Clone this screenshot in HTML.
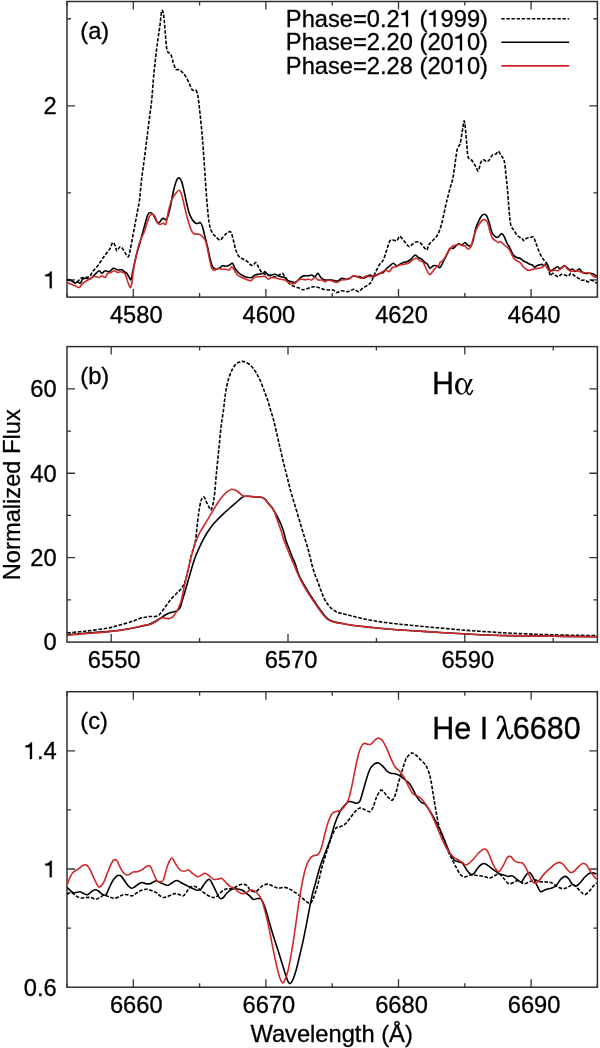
<!DOCTYPE html><html><head><meta charset="utf-8"><style>html,body{margin:0;padding:0;background:#fff;overflow:hidden}svg{display:block;will-change:transform}text{font-family:"Liberation Sans",sans-serif;fill:#000;stroke:#000;stroke-width:0.3px}</style></head><body>
<svg width="600" height="1048" viewBox="0 0 600 1048">
<rect width="600" height="1048" fill="#fff"/>
<rect x="67" y="1.5" width="530.40" height="295.60" fill="none" stroke="#2a2a2a" stroke-width="1.45"/>
<rect x="67" y="346.6" width="530.40" height="295.50" fill="none" stroke="#2a2a2a" stroke-width="1.45"/>
<rect x="67" y="691.7" width="530.40" height="295.50" fill="none" stroke="#2a2a2a" stroke-width="1.45"/>
<path d="M67.00 297.1v-4M67.00 1.5v4" stroke="#333" stroke-width="1.3"/>
<path d="M133.30 297.1v-8M133.30 1.5v8" stroke="#333" stroke-width="1.3"/>
<path d="M199.60 297.1v-4M199.60 1.5v4" stroke="#333" stroke-width="1.3"/>
<path d="M265.90 297.1v-8M265.90 1.5v8" stroke="#333" stroke-width="1.3"/>
<path d="M332.20 297.1v-4M332.20 1.5v4" stroke="#333" stroke-width="1.3"/>
<path d="M398.50 297.1v-8M398.50 1.5v8" stroke="#333" stroke-width="1.3"/>
<path d="M464.80 297.1v-4M464.80 1.5v4" stroke="#333" stroke-width="1.3"/>
<path d="M531.10 297.1v-8M531.10 1.5v8" stroke="#333" stroke-width="1.3"/>
<path d="M597.40 297.1v-4M597.40 1.5v4" stroke="#333" stroke-width="1.3"/>
<path d="M67 279.90h8M597.4 279.90h-8" stroke="#333" stroke-width="1.3"/>
<path d="M67 192.85h4M597.4 192.85h-4" stroke="#333" stroke-width="1.3"/>
<path d="M67 105.80h8M597.4 105.80h-8" stroke="#333" stroke-width="1.3"/>
<path d="M67 18.75h4M597.4 18.75h-4" stroke="#333" stroke-width="1.3"/>
<path d="M111.20 642.1v-8M111.20 346.6v8" stroke="#333" stroke-width="1.3"/>
<path d="M199.60 642.1v-4M199.60 346.6v4" stroke="#333" stroke-width="1.3"/>
<path d="M288.00 642.1v-8M288.00 346.6v8" stroke="#333" stroke-width="1.3"/>
<path d="M376.40 642.1v-4M376.40 346.6v4" stroke="#333" stroke-width="1.3"/>
<path d="M464.80 642.1v-8M464.80 346.6v8" stroke="#333" stroke-width="1.3"/>
<path d="M553.20 642.1v-4M553.20 346.6v4" stroke="#333" stroke-width="1.3"/>
<path d="M67 599.89h4M597.4 599.89h-4" stroke="#333" stroke-width="1.3"/>
<path d="M67 557.67h8M597.4 557.67h-8" stroke="#333" stroke-width="1.3"/>
<path d="M67 515.46h4M597.4 515.46h-4" stroke="#333" stroke-width="1.3"/>
<path d="M67 473.24h8M597.4 473.24h-8" stroke="#333" stroke-width="1.3"/>
<path d="M67 431.03h4M597.4 431.03h-4" stroke="#333" stroke-width="1.3"/>
<path d="M67 388.81h8M597.4 388.81h-8" stroke="#333" stroke-width="1.3"/>
<path d="M67.00 987.2v-4M67.00 691.7v4" stroke="#333" stroke-width="1.3"/>
<path d="M133.30 987.2v-8M133.30 691.7v8" stroke="#333" stroke-width="1.3"/>
<path d="M199.60 987.2v-4M199.60 691.7v4" stroke="#333" stroke-width="1.3"/>
<path d="M265.90 987.2v-8M265.90 691.7v8" stroke="#333" stroke-width="1.3"/>
<path d="M332.20 987.2v-4M332.20 691.7v4" stroke="#333" stroke-width="1.3"/>
<path d="M398.50 987.2v-8M398.50 691.7v8" stroke="#333" stroke-width="1.3"/>
<path d="M464.80 987.2v-4M464.80 691.7v4" stroke="#333" stroke-width="1.3"/>
<path d="M531.10 987.2v-8M531.10 691.7v8" stroke="#333" stroke-width="1.3"/>
<path d="M597.40 987.2v-4M597.40 691.7v4" stroke="#333" stroke-width="1.3"/>
<path d="M67 928.10h4M597.4 928.10h-4" stroke="#333" stroke-width="1.3"/>
<path d="M67 869.00h8M597.4 869.00h-8" stroke="#333" stroke-width="1.3"/>
<path d="M67 809.90h4M597.4 809.90h-4" stroke="#333" stroke-width="1.3"/>
<path d="M67 750.80h8M597.4 750.80h-8" stroke="#333" stroke-width="1.3"/>
<path d="M66.80 280.00 C67.50 280.13 69.47 280.38 71.00 280.80 C72.53 281.22 74.33 282.92 76.00 282.50 C77.67 282.08 79.62 279.13 81.00 278.30 C82.38 277.47 82.92 277.77 84.30 277.50 C85.68 277.23 87.90 277.67 89.30 276.70 C90.70 275.73 91.30 273.52 92.70 271.70 C94.10 269.88 96.03 268.03 97.70 265.80 C99.37 263.57 101.03 260.65 102.70 258.30 C104.37 255.95 106.45 253.37 107.70 251.70 C108.95 250.03 109.37 249.83 110.20 248.30 C111.03 246.77 111.87 242.92 112.70 242.50 C113.53 242.08 114.52 244.42 115.20 245.80 C115.88 247.18 115.97 250.65 116.80 250.80 C117.63 250.95 119.08 246.83 120.20 246.70 C121.32 246.57 122.53 248.75 123.50 250.00 C124.47 251.25 125.17 253.08 126.00 254.20 C126.83 255.32 127.80 257.40 128.50 256.70 C129.20 256.00 129.50 253.33 130.20 250.00 C130.90 246.67 131.87 241.15 132.70 236.70 C133.53 232.25 134.37 227.75 135.20 223.30 C136.03 218.85 136.95 214.17 137.70 210.00 C138.45 205.83 139.03 203.58 139.70 198.30 C140.37 193.02 140.95 184.68 141.70 178.30 C142.45 171.92 143.37 166.38 144.20 160.00 C145.03 153.62 145.87 146.67 146.70 140.00 C147.53 133.33 148.37 126.67 149.20 120.00 C150.03 113.33 151.02 106.67 151.70 100.00 C152.38 93.33 152.75 86.12 153.30 80.00 C153.85 73.88 154.43 68.58 155.00 63.30 C155.57 58.02 156.15 52.73 156.70 48.30 C157.25 43.87 157.75 40.58 158.30 36.70 C158.85 32.82 159.50 28.90 160.00 25.00 C160.50 21.10 160.93 15.75 161.30 13.30 C161.67 10.85 161.87 10.30 162.20 10.30 C162.53 10.30 162.97 11.68 163.30 13.30 C163.63 14.92 163.87 16.67 164.20 20.00 C164.53 23.33 164.88 28.58 165.30 33.30 C165.72 38.02 166.20 45.10 166.70 48.30 C167.20 51.50 167.62 51.52 168.30 52.50 C168.98 53.48 169.97 52.53 170.80 54.20 C171.63 55.87 172.47 60.00 173.30 62.50 C174.13 65.00 174.82 68.00 175.80 69.20 C176.78 70.40 178.08 69.15 179.20 69.70 C180.32 70.25 181.40 71.33 182.50 72.50 C183.60 73.67 184.68 74.90 185.80 76.70 C186.92 78.50 188.22 81.22 189.20 83.30 C190.18 85.38 190.87 87.95 191.70 89.20 C192.53 90.45 193.43 90.53 194.20 90.80 C194.97 91.07 195.67 89.82 196.30 90.80 C196.93 91.78 197.38 92.95 198.00 96.70 C198.62 100.45 199.33 107.20 200.00 113.30 C200.67 119.40 201.45 127.18 202.00 133.30 C202.55 139.42 202.85 143.88 203.30 150.00 C203.75 156.12 204.28 163.88 204.70 170.00 C205.12 176.12 205.33 180.32 205.80 186.70 C206.27 193.08 206.93 202.20 207.50 208.30 C208.07 214.40 208.50 219.40 209.20 223.30 C209.90 227.20 210.60 229.47 211.70 231.70 C212.80 233.93 214.42 235.32 215.80 236.70 C217.18 238.08 218.75 240.00 220.00 240.00 C221.25 240.00 222.18 237.82 223.30 236.70 C224.42 235.58 225.45 234.08 226.70 233.30 C227.95 232.52 229.70 230.88 230.80 232.00 C231.90 233.12 232.47 237.00 233.30 240.00 C234.13 243.00 234.82 247.22 235.80 250.00 C236.78 252.78 237.95 255.17 239.20 256.70 C240.45 258.23 241.92 258.37 243.30 259.20 C244.68 260.03 246.25 260.73 247.50 261.70 C248.75 262.67 249.83 264.45 250.80 265.00 C251.77 265.55 252.47 265.42 253.30 265.00 C254.13 264.58 254.97 262.22 255.80 262.50 C256.63 262.78 257.32 265.03 258.30 266.70 C259.28 268.37 260.58 271.25 261.70 272.50 C262.82 273.75 263.62 273.65 265.00 274.20 C266.38 274.75 268.33 275.38 270.00 275.80 C271.67 276.22 273.47 276.83 275.00 276.70 C276.53 276.57 277.95 275.57 279.20 275.00 C280.45 274.43 281.40 272.75 282.50 273.30 C283.60 273.85 284.55 276.48 285.80 278.30 C287.05 280.12 288.47 282.80 290.00 284.20 C291.53 285.60 293.33 286.02 295.00 286.70 C296.67 287.38 298.62 287.80 300.00 288.30 C301.38 288.80 301.92 289.70 303.30 289.70 C304.68 289.70 306.63 288.80 308.30 288.30 C309.97 287.80 311.63 286.83 313.30 286.70 C314.97 286.57 316.63 287.08 318.30 287.50 C319.97 287.92 321.63 288.78 323.30 289.20 C324.97 289.62 326.63 289.87 328.30 290.00 C329.97 290.13 331.90 289.58 333.30 290.00 C334.70 290.42 335.30 292.37 336.70 292.50 C338.10 292.63 340.03 290.93 341.70 290.80 C343.37 290.67 345.32 291.70 346.70 291.70 C348.08 291.70 348.75 291.22 350.00 290.80 C351.25 290.38 352.82 289.05 354.20 289.20 C355.58 289.35 356.92 291.85 358.30 291.70 C359.68 291.55 361.10 289.28 362.50 288.30 C363.90 287.32 365.32 286.77 366.70 285.80 C368.08 284.83 369.42 284.58 370.80 282.50 C372.18 280.42 373.60 276.22 375.00 273.30 C376.40 270.38 377.82 267.22 379.20 265.00 C380.58 262.78 382.05 262.50 383.30 260.00 C384.55 257.50 385.58 253.20 386.70 250.00 C387.82 246.80 388.90 242.47 390.00 240.80 C391.10 239.13 392.18 240.00 393.30 240.00 C394.42 240.00 395.63 241.42 396.70 240.80 C397.77 240.18 398.73 236.57 399.70 236.30 C400.67 236.03 401.48 238.03 402.50 239.20 C403.52 240.37 404.68 242.05 405.80 243.30 C406.92 244.55 408.08 246.55 409.20 246.70 C410.32 246.85 411.25 245.03 412.50 244.20 C413.75 243.37 415.32 241.85 416.70 241.70 C418.08 241.55 419.55 242.33 420.80 243.30 C422.05 244.27 423.22 246.38 424.20 247.50 C425.18 248.62 425.87 250.55 426.70 250.00 C427.53 249.45 428.10 245.87 429.20 244.20 C430.30 242.53 431.92 241.53 433.30 240.00 C434.68 238.47 436.25 237.22 437.50 235.00 C438.75 232.78 439.83 229.75 440.80 226.70 C441.77 223.65 442.47 220.32 443.30 216.70 C444.13 213.08 445.10 208.07 445.80 205.00 C446.50 201.93 446.80 201.08 447.50 198.30 C448.20 195.52 449.17 191.35 450.00 188.30 C450.83 185.25 451.80 183.05 452.50 180.00 C453.20 176.95 453.65 173.62 454.20 170.00 C454.75 166.38 455.25 161.92 455.80 158.30 C456.35 154.68 456.80 150.65 457.50 148.30 C458.20 145.95 459.30 146.42 460.00 144.20 C460.70 141.98 461.20 137.92 461.70 135.00 C462.20 132.08 462.58 129.07 463.00 126.70 C463.42 124.33 463.82 120.67 464.20 120.80 C464.58 120.93 464.88 123.75 465.30 127.50 C465.72 131.25 466.25 138.43 466.70 143.30 C467.15 148.17 467.32 154.05 468.00 156.70 C468.68 159.35 469.92 158.23 470.80 159.20 C471.68 160.17 472.47 161.25 473.30 162.50 C474.13 163.75 474.97 165.32 475.80 166.70 C476.63 168.08 477.47 171.50 478.30 170.80 C479.13 170.10 479.97 164.35 480.80 162.50 C481.63 160.65 482.32 159.83 483.30 159.70 C484.28 159.57 485.72 161.65 486.70 161.70 C487.68 161.75 488.23 161.12 489.20 160.00 C490.17 158.88 491.40 155.97 492.50 155.00 C493.60 154.03 494.83 154.82 495.80 154.20 C496.77 153.58 497.47 151.17 498.30 151.30 C499.13 151.43 499.82 153.42 500.80 155.00 C501.78 156.58 503.37 157.75 504.20 160.80 C505.03 163.85 505.25 168.43 505.80 173.30 C506.35 178.17 506.93 183.60 507.50 190.00 C508.07 196.40 508.65 205.87 509.20 211.70 C509.75 217.53 509.97 221.82 510.80 225.00 C511.63 228.18 513.08 229.00 514.20 230.80 C515.32 232.60 516.25 234.55 517.50 235.80 C518.75 237.05 520.58 237.47 521.70 238.30 C522.82 239.13 523.37 240.80 524.20 240.80 C525.03 240.80 525.60 238.85 526.70 238.30 C527.80 237.75 529.67 237.72 530.80 237.50 C531.93 237.28 532.67 236.12 533.50 237.00 C534.33 237.88 534.83 240.27 535.80 242.80 C536.77 245.33 538.13 249.57 539.30 252.20 C540.47 254.83 541.63 256.85 542.80 258.60 C543.97 260.35 545.32 260.85 546.30 262.70 C547.28 264.55 548.02 267.57 548.70 269.70 C549.38 271.83 549.72 274.92 550.40 275.50 C551.08 276.08 551.92 273.20 552.80 273.20 C553.68 273.20 554.73 274.92 555.70 275.50 C556.67 276.08 557.63 276.90 558.60 276.70 C559.57 276.50 560.43 274.60 561.50 274.30 C562.57 274.00 563.83 274.60 565.00 274.90 C566.17 275.20 567.53 276.38 568.50 276.10 C569.47 275.82 569.83 273.30 570.80 273.20 C571.77 273.10 573.13 274.73 574.30 275.50 C575.47 276.27 576.63 277.02 577.80 277.80 C578.97 278.58 580.13 279.80 581.30 280.20 C582.47 280.60 583.63 279.92 584.80 280.20 C585.97 280.48 587.13 281.90 588.30 281.90 C589.47 281.90 590.63 280.10 591.80 280.20 C592.97 280.30 594.43 282.02 595.30 282.50 C596.17 282.98 596.72 283.00 597.00 283.10" fill="none" stroke="#000" stroke-width="1.6" stroke-linejoin="round" stroke-dasharray="3.6 1.6"/>
<path d="M66.80 280.00 C67.22 279.95 68.32 279.48 69.30 279.70 C70.28 279.92 71.72 280.70 72.70 281.30 C73.68 281.90 74.37 283.23 75.20 283.30 C76.03 283.37 76.87 281.70 77.70 281.70 C78.53 281.70 79.37 283.72 80.20 283.30 C81.03 282.88 81.73 280.03 82.70 279.20 C83.67 278.37 84.90 278.30 86.00 278.30 C87.10 278.30 88.18 279.47 89.30 279.20 C90.42 278.93 91.58 277.68 92.70 276.70 C93.82 275.72 94.90 274.28 96.00 273.30 C97.10 272.32 98.33 270.80 99.30 270.80 C100.27 270.80 100.82 273.30 101.80 273.30 C102.78 273.30 103.95 271.07 105.20 270.80 C106.45 270.53 107.92 272.12 109.30 271.70 C110.68 271.28 112.10 268.58 113.50 268.30 C114.90 268.02 116.32 269.77 117.70 270.00 C119.08 270.23 120.70 269.42 121.80 269.70 C122.90 269.98 123.47 271.10 124.30 271.70 C125.13 272.30 125.97 272.33 126.80 273.30 C127.63 274.27 128.60 276.43 129.30 277.50 C130.00 278.57 130.43 280.67 131.00 279.70 C131.57 278.73 131.87 275.53 132.70 271.70 C133.53 267.87 134.90 261.15 136.00 256.70 C137.10 252.25 137.92 250.00 139.30 245.00 C140.68 240.00 142.90 231.70 144.30 226.70 C145.70 221.70 146.72 217.37 147.70 215.00 C148.68 212.63 149.23 212.50 150.20 212.50 C151.17 212.50 152.40 213.47 153.50 215.00 C154.60 216.53 155.83 220.45 156.80 221.70 C157.77 222.95 158.47 222.92 159.30 222.50 C160.13 222.08 161.13 219.90 161.80 219.20 C162.47 218.50 162.48 218.30 163.30 218.30 C164.12 218.30 165.58 220.87 166.70 219.20 C167.82 217.53 168.90 212.88 170.00 208.30 C171.10 203.72 172.18 196.42 173.30 191.70 C174.42 186.98 175.72 182.28 176.70 180.00 C177.68 177.72 178.37 177.72 179.20 178.00 C180.03 178.28 180.87 179.42 181.70 181.70 C182.53 183.98 183.37 188.10 184.20 191.70 C185.03 195.30 185.87 199.70 186.70 203.30 C187.53 206.90 188.23 210.52 189.20 213.30 C190.17 216.08 191.40 218.33 192.50 220.00 C193.60 221.67 194.83 222.75 195.80 223.30 C196.77 223.85 197.55 223.43 198.30 223.30 C199.05 223.17 199.60 221.93 200.30 222.50 C201.00 223.07 201.72 224.33 202.50 226.70 C203.28 229.07 204.17 233.37 205.00 236.70 C205.83 240.03 206.67 243.10 207.50 246.70 C208.33 250.30 209.17 254.97 210.00 258.30 C210.83 261.63 211.53 264.88 212.50 266.70 C213.47 268.52 214.68 268.93 215.80 269.20 C216.92 269.47 218.08 268.87 219.20 268.30 C220.32 267.73 221.40 266.13 222.50 265.80 C223.60 265.47 224.68 266.38 225.80 266.30 C226.92 266.22 228.08 265.80 229.20 265.30 C230.32 264.80 231.53 262.80 232.50 263.30 C233.47 263.80 234.03 266.77 235.00 268.30 C235.97 269.83 237.18 271.38 238.30 272.50 C239.42 273.62 240.58 274.30 241.70 275.00 C242.82 275.70 243.90 276.28 245.00 276.70 C246.10 277.12 247.18 277.37 248.30 277.50 C249.42 277.63 250.58 277.92 251.70 277.50 C252.82 277.08 253.75 275.55 255.00 275.00 C256.25 274.45 257.82 274.48 259.20 274.20 C260.58 273.92 262.33 273.72 263.30 273.30 C264.27 272.88 264.17 271.42 265.00 271.70 C265.83 271.98 267.18 274.45 268.30 275.00 C269.42 275.55 270.58 275.13 271.70 275.00 C272.82 274.87 273.90 274.07 275.00 274.20 C276.10 274.33 277.18 275.33 278.30 275.80 C279.42 276.27 280.58 276.72 281.70 277.00 C282.82 277.28 283.90 276.87 285.00 277.50 C286.10 278.13 287.18 280.10 288.30 280.80 C289.42 281.50 290.58 281.42 291.70 281.70 C292.82 281.98 293.90 282.78 295.00 282.50 C296.10 282.22 297.18 280.97 298.30 280.00 C299.42 279.03 300.58 277.40 301.70 276.70 C302.82 276.00 303.90 275.95 305.00 275.80 C306.10 275.65 307.18 275.93 308.30 275.80 C309.42 275.67 310.58 274.85 311.70 275.00 C312.82 275.15 313.95 276.98 315.00 276.70 C316.05 276.42 317.03 273.17 318.00 273.30 C318.97 273.43 319.63 276.38 320.80 277.50 C321.97 278.62 323.75 279.63 325.00 280.00 C326.25 280.37 327.18 279.70 328.30 279.70 C329.42 279.70 330.58 279.82 331.70 280.00 C332.82 280.18 333.90 280.67 335.00 280.80 C336.10 280.93 337.18 281.22 338.30 280.80 C339.42 280.38 340.45 278.57 341.70 278.30 C342.95 278.03 344.42 279.20 345.80 279.20 C347.18 279.20 348.75 278.87 350.00 278.30 C351.25 277.73 352.18 276.07 353.30 275.80 C354.42 275.53 355.58 276.55 356.70 276.70 C357.82 276.85 358.90 276.43 360.00 276.70 C361.10 276.97 362.18 278.30 363.30 278.30 C364.42 278.30 365.58 277.25 366.70 276.70 C367.82 276.15 368.90 275.00 370.00 275.00 C371.10 275.00 372.18 276.70 373.30 276.70 C374.42 276.70 375.58 275.57 376.70 275.00 C377.82 274.43 378.90 273.72 380.00 273.30 C381.10 272.88 382.18 273.33 383.30 272.50 C384.42 271.67 385.58 269.42 386.70 268.30 C387.82 267.18 388.90 266.63 390.00 265.80 C391.10 264.97 392.18 263.30 393.30 263.30 C394.42 263.30 395.58 265.65 396.70 265.80 C397.82 265.95 398.90 264.75 400.00 264.20 C401.10 263.65 402.18 262.92 403.30 262.50 C404.42 262.08 405.58 262.12 406.70 261.70 C407.82 261.28 409.03 260.70 410.00 260.00 C410.97 259.30 411.62 258.33 412.50 257.50 C413.38 256.67 414.33 255.00 415.30 255.00 C416.27 255.00 417.23 256.80 418.30 257.50 C419.37 258.20 420.58 258.37 421.70 259.20 C422.82 260.03 424.03 261.67 425.00 262.50 C425.97 263.33 426.67 263.23 427.50 264.20 C428.33 265.17 429.03 268.03 430.00 268.30 C430.97 268.57 432.18 266.22 433.30 265.80 C434.42 265.38 435.58 265.52 436.70 265.80 C437.82 266.08 438.90 268.18 440.00 267.50 C441.10 266.82 442.18 263.78 443.30 261.70 C444.42 259.62 445.58 257.23 446.70 255.00 C447.82 252.77 448.90 249.42 450.00 248.30 C451.10 247.18 452.18 248.85 453.30 248.30 C454.42 247.75 455.72 245.77 456.70 245.00 C457.68 244.23 458.37 243.70 459.20 243.70 C460.03 243.70 460.73 245.20 461.70 245.00 C462.67 244.80 464.03 242.50 465.00 242.50 C465.97 242.50 466.53 244.45 467.50 245.00 C468.47 245.55 469.83 246.63 470.80 245.80 C471.77 244.97 472.47 242.92 473.30 240.00 C474.13 237.08 474.82 231.63 475.80 228.30 C476.78 224.97 478.22 222.08 479.20 220.00 C480.18 217.92 480.87 216.77 481.70 215.80 C482.53 214.83 483.37 214.20 484.20 214.20 C485.03 214.20 485.87 214.42 486.70 215.80 C487.53 217.18 488.37 219.85 489.20 222.50 C490.03 225.15 490.87 229.48 491.70 231.70 C492.53 233.92 493.23 234.83 494.20 235.80 C495.17 236.77 496.53 237.63 497.50 237.50 C498.47 237.37 499.25 235.63 500.00 235.00 C500.75 234.37 501.30 233.42 502.00 233.70 C502.70 233.98 503.42 235.23 504.20 236.70 C504.98 238.17 505.73 240.57 506.70 242.50 C507.67 244.43 508.90 246.22 510.00 248.30 C511.10 250.38 512.18 253.47 513.30 255.00 C514.42 256.53 515.58 256.95 516.70 257.50 C517.82 258.05 518.90 257.75 520.00 258.30 C521.10 258.85 522.18 260.10 523.30 260.80 C524.42 261.50 525.58 261.93 526.70 262.50 C527.82 263.07 529.07 263.78 530.00 264.20 C530.93 264.62 531.52 264.48 532.30 265.00 C533.08 265.52 533.92 267.20 534.70 267.30 C535.48 267.40 536.23 265.98 537.00 265.60 C537.77 265.22 538.52 265.20 539.30 265.00 C540.08 264.80 540.92 264.30 541.70 264.40 C542.48 264.50 543.23 265.70 544.00 265.60 C544.77 265.50 545.62 263.80 546.30 263.80 C546.98 263.80 547.60 264.53 548.10 265.60 C548.60 266.67 548.72 269.43 549.30 270.20 C549.88 270.97 550.73 270.48 551.60 270.20 C552.47 269.92 553.53 269.07 554.50 268.50 C555.47 267.93 556.52 266.80 557.40 266.80 C558.28 266.80 559.02 268.42 559.80 268.50 C560.58 268.58 561.33 267.78 562.10 267.30 C562.87 266.82 563.62 265.60 564.40 265.60 C565.18 265.60 565.92 266.62 566.80 267.30 C567.68 267.98 568.73 269.40 569.70 269.70 C570.67 270.00 571.73 268.82 572.60 269.10 C573.47 269.38 574.12 271.22 574.90 271.40 C575.68 271.58 576.52 270.58 577.30 270.20 C578.08 269.82 578.83 268.80 579.60 269.10 C580.37 269.40 581.03 271.32 581.90 272.00 C582.77 272.68 583.82 272.97 584.80 273.20 C585.78 273.43 586.82 273.40 587.80 273.40 C588.78 273.40 589.83 273.13 590.70 273.20 C591.57 273.27 592.32 273.52 593.00 273.80 C593.68 274.08 594.13 274.42 594.80 274.90 C595.47 275.38 596.63 276.40 597.00 276.70" fill="none" stroke="#000" stroke-width="1.6" stroke-linejoin="round"/>
<path d="M66.80 282.50 C67.50 282.78 69.60 283.65 71.00 284.20 C72.40 284.75 73.82 285.25 75.20 285.80 C76.58 286.35 78.05 287.92 79.30 287.50 C80.55 287.08 81.45 284.42 82.70 283.30 C83.95 282.18 85.42 281.63 86.80 280.80 C88.18 279.97 89.88 278.98 91.00 278.30 C92.12 277.62 92.53 276.97 93.50 276.70 C94.47 276.43 95.83 276.57 96.80 276.70 C97.77 276.83 98.47 277.65 99.30 277.50 C100.13 277.35 100.82 275.80 101.80 275.80 C102.78 275.80 104.22 277.92 105.20 277.50 C106.18 277.08 106.73 274.13 107.70 273.30 C108.67 272.47 109.90 272.92 111.00 272.50 C112.10 272.08 113.18 270.80 114.30 270.80 C115.42 270.80 116.58 272.35 117.70 272.50 C118.82 272.65 119.75 271.42 121.00 271.70 C122.25 271.98 124.08 272.53 125.20 274.20 C126.32 275.87 126.87 279.48 127.70 281.70 C128.53 283.92 129.52 287.23 130.20 287.50 C130.88 287.77 131.12 287.05 131.80 283.30 C132.48 279.55 133.05 271.67 134.30 265.00 C135.55 258.33 137.63 248.85 139.30 243.30 C140.97 237.75 142.63 236.13 144.30 231.70 C145.97 227.27 147.90 219.62 149.30 216.70 C150.70 213.78 151.72 214.20 152.70 214.20 C153.68 214.20 154.37 215.18 155.20 216.70 C156.03 218.22 156.73 222.05 157.70 223.30 C158.67 224.55 160.07 224.25 161.00 224.20 C161.93 224.15 162.50 223.00 163.30 223.00 C164.10 223.00 164.97 226.08 165.80 224.20 C166.63 222.32 167.32 215.73 168.30 211.70 C169.28 207.67 170.45 203.07 171.70 200.00 C172.95 196.93 174.55 194.92 175.80 193.30 C177.05 191.68 178.22 190.02 179.20 190.30 C180.18 190.58 180.87 192.55 181.70 195.00 C182.53 197.45 183.37 201.53 184.20 205.00 C185.03 208.47 185.73 212.18 186.70 215.80 C187.67 219.42 189.03 223.92 190.00 226.70 C190.97 229.48 191.53 231.25 192.50 232.50 C193.47 233.75 194.68 233.92 195.80 234.20 C196.92 234.48 198.08 233.78 199.20 234.20 C200.32 234.62 201.40 235.45 202.50 236.70 C203.60 237.95 204.83 238.93 205.80 241.70 C206.77 244.47 207.32 248.87 208.30 253.30 C209.28 257.73 210.58 265.52 211.70 268.30 C212.82 271.08 213.90 270.00 215.00 270.00 C216.10 270.00 217.18 268.43 218.30 268.30 C219.42 268.17 220.45 269.05 221.70 269.20 C222.95 269.35 224.55 269.07 225.80 269.20 C227.05 269.33 228.22 270.42 229.20 270.00 C230.18 269.58 230.87 266.70 231.70 266.70 C232.53 266.70 233.23 268.62 234.20 270.00 C235.17 271.38 236.25 273.75 237.50 275.00 C238.75 276.25 240.32 276.80 241.70 277.50 C243.08 278.20 244.28 278.65 245.80 279.20 C247.32 279.75 249.40 281.08 250.80 280.80 C252.20 280.52 252.67 278.18 254.20 277.50 C255.73 276.82 258.20 276.90 260.00 276.70 C261.80 276.50 263.62 275.88 265.00 276.30 C266.38 276.72 267.18 279.00 268.30 279.20 C269.42 279.40 270.30 277.65 271.70 277.50 C273.10 277.35 275.32 278.02 276.70 278.30 C278.08 278.58 278.62 278.92 280.00 279.20 C281.38 279.48 283.62 279.45 285.00 280.00 C286.38 280.55 287.18 281.88 288.30 282.50 C289.42 283.12 290.58 283.57 291.70 283.70 C292.82 283.83 293.90 283.92 295.00 283.30 C296.10 282.68 297.18 280.68 298.30 280.00 C299.42 279.32 300.58 279.25 301.70 279.20 C302.82 279.15 303.90 279.70 305.00 279.70 C306.10 279.70 307.18 279.15 308.30 279.20 C309.42 279.25 310.58 280.28 311.70 280.00 C312.82 279.72 313.90 277.50 315.00 277.50 C316.10 277.50 317.18 279.58 318.30 280.00 C319.42 280.42 320.58 279.72 321.70 280.00 C322.82 280.28 323.90 281.70 325.00 281.70 C326.10 281.70 327.18 280.15 328.30 280.00 C329.42 279.85 330.30 280.38 331.70 280.80 C333.10 281.22 335.03 282.63 336.70 282.50 C338.37 282.37 340.18 280.47 341.70 280.00 C343.22 279.53 344.42 279.98 345.80 279.70 C347.18 279.42 348.75 278.95 350.00 278.30 C351.25 277.65 352.05 276.07 353.30 275.80 C354.55 275.53 356.10 276.28 357.50 276.70 C358.90 277.12 360.17 278.45 361.70 278.30 C363.23 278.15 365.18 276.02 366.70 275.80 C368.22 275.58 369.42 277.13 370.80 277.00 C372.18 276.87 373.60 275.47 375.00 275.00 C376.40 274.53 377.95 274.75 379.20 274.20 C380.45 273.65 381.40 272.40 382.50 271.70 C383.60 271.00 384.68 270.00 385.80 270.00 C386.92 270.00 388.08 272.12 389.20 271.70 C390.32 271.28 391.40 268.33 392.50 267.50 C393.60 266.67 394.55 267.12 395.80 266.70 C397.05 266.28 398.60 265.42 400.00 265.00 C401.40 264.58 402.82 264.48 404.20 264.20 C405.58 263.92 406.92 264.00 408.30 263.30 C409.68 262.60 411.10 260.83 412.50 260.00 C413.90 259.17 415.45 258.17 416.70 258.30 C417.95 258.43 418.90 260.10 420.00 260.80 C421.10 261.50 422.18 260.97 423.30 262.50 C424.42 264.03 425.63 267.97 426.70 270.00 C427.77 272.03 428.73 274.42 429.70 274.70 C430.67 274.98 431.48 272.90 432.50 271.70 C433.52 270.50 434.68 268.62 435.80 267.50 C436.92 266.38 438.50 265.83 439.20 265.00 C439.90 264.17 439.32 263.33 440.00 262.50 C440.68 261.67 442.18 261.38 443.30 260.00 C444.42 258.62 445.58 256.00 446.70 254.20 C447.82 252.40 448.90 250.60 450.00 249.20 C451.10 247.80 452.18 246.50 453.30 245.80 C454.42 245.10 455.72 245.27 456.70 245.00 C457.68 244.73 458.23 244.07 459.20 244.20 C460.17 244.33 461.53 245.53 462.50 245.80 C463.47 246.07 464.08 245.23 465.00 245.80 C465.92 246.37 467.03 249.05 468.00 249.20 C468.97 249.35 469.92 248.52 470.80 246.70 C471.68 244.88 472.47 240.95 473.30 238.30 C474.13 235.65 474.82 233.15 475.80 230.80 C476.78 228.45 478.08 226.00 479.20 224.20 C480.32 222.40 481.53 220.75 482.50 220.00 C483.47 219.25 484.17 219.28 485.00 219.70 C485.83 220.12 486.67 220.50 487.50 222.50 C488.33 224.50 489.17 229.07 490.00 231.70 C490.83 234.33 491.53 236.78 492.50 238.30 C493.47 239.82 494.83 240.10 495.80 240.80 C496.77 241.50 497.47 242.35 498.30 242.50 C499.13 242.65 499.82 241.28 500.80 241.70 C501.78 242.12 503.08 244.03 504.20 245.00 C505.32 245.97 506.53 246.53 507.50 247.50 C508.47 248.47 509.03 249.13 510.00 250.80 C510.97 252.47 512.18 255.83 513.30 257.50 C514.42 259.17 515.58 259.97 516.70 260.80 C517.82 261.63 518.90 261.52 520.00 262.50 C521.10 263.48 522.18 265.50 523.30 266.70 C524.42 267.90 525.58 269.12 526.70 269.70 C527.82 270.28 528.87 270.30 530.00 270.20 C531.13 270.10 532.33 269.38 533.50 269.10 C534.67 268.82 535.83 268.70 537.00 268.50 C538.17 268.30 539.53 268.18 540.50 267.90 C541.47 267.62 542.12 267.38 542.80 266.80 C543.48 266.22 544.02 264.40 544.60 264.40 C545.18 264.40 545.72 265.92 546.30 266.80 C546.88 267.68 547.52 268.93 548.10 269.70 C548.68 270.47 549.12 271.22 549.80 271.40 C550.48 271.58 551.32 271.00 552.20 270.80 C553.08 270.60 554.13 270.20 555.10 270.20 C556.07 270.20 557.13 270.98 558.00 270.80 C558.87 270.62 559.52 269.68 560.30 269.10 C561.08 268.52 561.92 267.88 562.70 267.30 C563.48 266.72 564.32 265.40 565.00 265.60 C565.68 265.80 566.12 267.73 566.80 268.50 C567.48 269.27 568.23 269.72 569.10 270.20 C569.97 270.68 571.13 271.30 572.00 271.40 C572.87 271.50 573.52 270.90 574.30 270.80 C575.08 270.70 575.92 270.70 576.70 270.80 C577.48 270.90 578.23 271.20 579.00 271.40 C579.77 271.60 580.52 271.80 581.30 272.00 C582.08 272.20 582.92 272.45 583.70 272.60 C584.48 272.75 585.23 272.80 586.00 272.90 C586.77 273.00 587.52 273.05 588.30 273.20 C589.08 273.35 589.92 273.32 590.70 273.80 C591.48 274.28 592.23 275.52 593.00 276.10 C593.77 276.68 594.63 277.10 595.30 277.30 C595.97 277.50 596.72 277.30 597.00 277.30" fill="none" stroke="#d02828" stroke-width="1.6" stroke-linejoin="round"/>
<path d="M67.30 633.00 C70.53 632.67 80.13 631.78 86.70 631.00 C93.27 630.22 101.15 629.30 106.70 628.30 C112.25 627.30 115.57 626.22 120.00 625.00 C124.43 623.78 129.97 622.12 133.30 621.00 C136.63 619.88 138.05 618.92 140.00 618.30 C141.95 617.68 143.33 617.60 145.00 617.30 C146.67 617.00 148.33 616.63 150.00 616.50 C151.67 616.37 153.50 616.75 155.00 616.50 C156.50 616.25 157.67 616.08 159.00 615.00 C160.33 613.92 161.67 611.75 163.00 610.00 C164.33 608.25 165.67 606.33 167.00 604.50 C168.33 602.67 169.50 600.75 171.00 599.00 C172.50 597.25 174.50 595.50 176.00 594.00 C177.50 592.50 178.83 591.33 180.00 590.00 C181.17 588.67 182.07 587.67 183.00 586.00 C183.93 584.33 184.83 582.33 185.60 580.00 C186.37 577.67 186.93 574.83 187.60 572.00 C188.27 569.17 188.93 566.00 189.60 563.00 C190.27 560.00 190.93 556.50 191.60 554.00 C192.27 551.50 192.93 550.33 193.60 548.00 C194.27 545.67 195.03 543.50 195.60 540.00 C196.17 536.50 196.48 531.45 197.00 527.00 C197.52 522.55 198.20 516.97 198.70 513.30 C199.20 509.63 199.53 507.30 200.00 505.00 C200.47 502.70 200.92 500.87 201.50 499.50 C202.08 498.13 202.92 496.97 203.50 496.80 C204.08 496.63 204.47 497.52 205.00 498.50 C205.53 499.48 206.03 501.28 206.70 502.70 C207.37 504.12 208.28 505.78 209.00 507.00 C209.72 508.22 210.30 510.67 211.00 510.00 C211.70 509.33 212.58 505.83 213.20 503.00 C213.82 500.17 214.19 497.67 214.70 493.00 C215.21 488.33 215.57 482.17 216.25 475.00 C216.93 467.83 217.92 458.33 218.75 450.00 C219.58 441.67 220.46 431.67 221.25 425.00 C222.04 418.33 222.88 414.67 223.50 410.00 C224.12 405.33 224.42 401.17 225.00 397.00 C225.58 392.83 226.25 388.50 227.00 385.00 C227.75 381.50 228.58 378.67 229.50 376.00 C230.42 373.33 231.42 371.00 232.50 369.00 C233.58 367.00 234.83 365.17 236.00 364.00 C237.17 362.83 238.42 362.43 239.50 362.00 C240.58 361.57 241.42 361.33 242.50 361.40 C243.58 361.47 244.83 361.88 246.00 362.40 C247.17 362.92 248.33 363.57 249.50 364.50 C250.67 365.43 251.92 366.67 253.00 368.00 C254.08 369.33 255.00 370.83 256.00 372.50 C257.00 374.17 258.00 375.92 259.00 378.00 C260.00 380.08 261.00 382.50 262.00 385.00 C263.00 387.50 264.00 390.33 265.00 393.00 C266.00 395.67 267.08 398.17 268.00 401.00 C268.92 403.83 269.57 406.83 270.50 410.00 C271.43 413.17 272.25 414.75 273.60 420.00 C274.95 425.25 276.93 434.33 278.60 441.50 C280.27 448.67 282.17 457.03 283.60 463.00 C285.03 468.97 286.00 472.53 287.20 477.30 C288.40 482.07 289.48 486.82 290.80 491.60 C292.12 496.38 293.67 501.22 295.10 506.00 C296.53 510.78 297.97 515.52 299.40 520.30 C300.83 525.08 302.27 529.92 303.70 534.70 C305.13 539.48 306.92 545.20 308.00 549.00 C309.08 552.80 309.53 554.83 310.20 557.50 C310.87 560.17 311.28 562.37 312.00 565.00 C312.72 567.63 313.53 570.52 314.50 573.30 C315.47 576.08 316.76 578.92 317.80 581.70 C318.84 584.48 319.77 587.37 320.75 590.00 C321.73 592.63 322.66 595.28 323.70 597.50 C324.74 599.72 325.75 601.50 327.00 603.30 C328.25 605.10 329.67 606.90 331.20 608.30 C332.73 609.70 334.53 610.87 336.20 611.70 C337.87 612.53 338.90 612.67 341.20 613.30 C343.50 613.93 346.87 614.72 350.00 615.50 C353.13 616.28 356.25 617.17 360.00 618.00 C363.75 618.83 368.33 619.75 372.50 620.50 C376.67 621.25 380.42 621.88 385.00 622.50 C389.58 623.12 394.17 623.58 400.00 624.20 C405.83 624.82 413.33 625.57 420.00 626.20 C426.67 626.83 433.33 627.40 440.00 628.00 C446.67 628.60 453.33 629.25 460.00 629.80 C466.67 630.35 473.33 630.83 480.00 631.30 C486.67 631.77 493.33 632.22 500.00 632.60 C506.67 632.98 513.33 633.30 520.00 633.60 C526.67 633.90 533.33 634.17 540.00 634.40 C546.67 634.63 553.33 634.83 560.00 635.00 C566.67 635.17 573.83 635.30 580.00 635.40 C586.17 635.50 594.17 635.57 597.00 635.60" fill="none" stroke="#000" stroke-width="1.6" stroke-linejoin="round" stroke-dasharray="3.6 1.6"/>
<path d="M67.30 634.80 C70.53 634.52 80.13 633.63 86.70 633.10 C93.27 632.57 101.15 632.08 106.70 631.60 C112.25 631.12 115.57 630.80 120.00 630.20 C124.43 629.60 129.13 628.78 133.30 628.00 C137.47 627.22 142.22 626.17 145.00 625.50 C147.78 624.83 148.17 624.75 150.00 624.00 C151.83 623.25 154.17 622.00 156.00 621.00 C157.83 620.00 159.33 619.08 161.00 618.00 C162.67 616.92 164.33 615.42 166.00 614.50 C167.67 613.58 169.50 612.98 171.00 612.50 C172.50 612.02 173.83 612.02 175.00 611.60 C176.17 611.18 177.12 610.72 178.00 610.00 C178.88 609.28 179.72 608.47 180.30 607.30 C180.88 606.13 181.02 604.63 181.50 603.00 C181.98 601.37 182.62 599.37 183.20 597.50 C183.77 595.63 184.05 594.88 184.95 591.80 C185.85 588.72 187.38 583.27 188.60 579.00 C189.82 574.73 191.08 570.17 192.30 566.20 C193.53 562.23 194.45 559.02 195.95 555.20 C197.45 551.38 199.49 546.97 201.30 543.30 C203.11 539.63 204.65 536.57 206.80 533.20 C208.95 529.83 211.45 526.32 214.20 523.10 C216.95 519.88 220.25 516.80 223.30 513.90 C226.35 511.00 229.97 507.93 232.50 505.70 C235.03 503.47 236.67 502.02 238.50 500.50 C240.33 498.98 241.87 497.30 243.50 496.60 C245.13 495.90 246.72 496.27 248.30 496.30 C249.88 496.33 251.33 496.68 253.00 496.80 C254.67 496.92 256.75 496.87 258.30 497.00 C259.85 497.13 261.18 497.23 262.30 497.60 C263.42 497.97 264.12 498.43 265.00 499.20 C265.88 499.97 266.72 501.15 267.60 502.20 C268.48 503.25 269.40 504.38 270.30 505.50 C271.20 506.62 272.12 507.57 273.00 508.90 C273.88 510.23 274.77 511.98 275.60 513.50 C276.43 515.02 277.02 516.00 278.00 518.00 C278.98 520.00 280.50 523.00 281.50 525.50 C282.50 528.00 283.25 530.45 284.00 533.00 C284.75 535.55 285.17 538.22 286.00 540.80 C286.83 543.38 288.03 545.97 289.00 548.50 C289.97 551.03 290.77 553.47 291.80 556.00 C292.83 558.53 294.02 560.53 295.20 563.70 C296.38 566.87 297.42 571.45 298.90 575.00 C300.38 578.55 302.40 581.95 304.10 585.00 C305.80 588.05 307.43 590.67 309.10 593.30 C310.77 595.93 312.43 598.30 314.10 600.80 C315.77 603.30 317.43 605.93 319.10 608.30 C320.77 610.67 322.58 613.18 324.10 615.00 C325.62 616.82 326.82 618.15 328.20 619.20 C329.58 620.25 330.87 620.73 332.40 621.30 C333.93 621.87 335.73 622.25 337.40 622.60 C339.07 622.95 340.72 623.08 342.40 623.40 C344.08 623.72 344.57 624.02 347.50 624.50 C350.43 624.98 355.83 625.75 360.00 626.25 C364.17 626.75 368.33 627.08 372.50 627.50 C376.67 627.92 380.42 628.33 385.00 628.75 C389.58 629.17 393.05 629.52 400.00 630.00 C406.95 630.48 417.82 631.05 426.70 631.60 C435.58 632.15 444.42 632.78 453.30 633.30 C462.18 633.82 472.22 634.33 480.00 634.70 C487.78 635.07 490.00 635.28 500.00 635.50 C510.00 635.72 523.83 635.78 540.00 636.00 C556.17 636.22 587.50 636.67 597.00 636.80" fill="none" stroke="#000" stroke-width="1.6" stroke-linejoin="round"/>
<path d="M67.30 635.20 C70.53 634.92 80.13 634.05 86.70 633.50 C93.27 632.95 101.15 632.42 106.70 631.90 C112.25 631.38 115.57 631.05 120.00 630.40 C124.43 629.75 129.13 628.90 133.30 628.00 C137.47 627.10 142.22 625.58 145.00 625.00 C147.78 624.42 148.17 625.08 150.00 624.50 C151.83 623.92 154.17 622.58 156.00 621.50 C157.83 620.42 159.50 618.55 161.00 618.00 C162.50 617.45 163.50 618.12 165.00 618.20 C166.50 618.28 168.50 618.95 170.00 618.50 C171.50 618.05 172.67 617.08 174.00 615.50 C175.33 613.92 176.80 611.42 178.00 609.00 C179.20 606.58 180.22 604.47 181.20 601.00 C182.18 597.53 182.83 593.08 183.90 588.20 C184.97 583.32 186.38 576.90 187.60 571.70 C188.82 566.50 190.03 561.58 191.25 557.00 C192.47 552.42 193.53 548.17 194.90 544.20 C196.28 540.23 197.82 536.57 199.50 533.20 C201.18 529.83 203.17 527.07 205.00 524.00 C206.83 520.93 208.67 517.85 210.50 514.80 C212.33 511.75 214.42 508.25 216.00 505.70 C217.58 503.15 218.45 501.57 220.00 499.50 C221.55 497.43 223.52 494.98 225.30 493.30 C227.08 491.62 229.08 489.95 230.70 489.40 C232.32 488.85 233.53 489.40 235.00 490.00 C236.47 490.60 238.08 491.97 239.50 493.00 C240.92 494.03 242.12 495.68 243.50 496.20 C244.88 496.72 246.30 496.03 247.80 496.10 C249.30 496.17 250.83 496.48 252.50 496.60 C254.17 496.72 256.25 496.67 257.80 496.80 C259.35 496.93 260.68 497.03 261.80 497.40 C262.92 497.77 263.62 498.23 264.50 499.00 C265.38 499.77 266.22 500.95 267.10 502.00 C267.98 503.05 268.90 504.18 269.80 505.30 C270.70 506.42 271.62 507.37 272.50 508.70 C273.38 510.03 274.43 511.75 275.10 513.30 C275.77 514.85 275.82 515.97 276.50 518.00 C277.18 520.03 278.32 523.00 279.20 525.50 C280.08 528.00 280.98 530.45 281.80 533.00 C282.62 535.55 283.20 538.22 284.10 540.80 C285.00 543.38 286.18 545.97 287.20 548.50 C288.22 551.03 289.15 553.47 290.20 556.00 C291.25 558.53 292.15 560.53 293.50 563.70 C294.85 566.87 296.67 571.45 298.30 575.00 C299.93 578.55 301.63 581.95 303.30 585.00 C304.97 588.05 306.63 590.67 308.30 593.30 C309.97 595.93 311.63 598.30 313.30 600.80 C314.97 603.30 316.63 605.93 318.30 608.30 C319.97 610.67 321.77 613.17 323.30 615.00 C324.83 616.83 326.08 618.23 327.50 619.30 C328.92 620.37 330.22 620.83 331.80 621.40 C333.38 621.97 335.30 622.35 337.00 622.70 C338.70 623.05 340.25 623.20 342.00 623.50 C343.75 623.80 344.50 624.04 347.50 624.50 C350.50 624.96 355.83 625.75 360.00 626.25 C364.17 626.75 368.33 627.08 372.50 627.50 C376.67 627.92 380.42 628.33 385.00 628.75 C389.58 629.17 393.05 629.52 400.00 630.00 C406.95 630.48 417.82 631.05 426.70 631.60 C435.58 632.15 444.42 632.78 453.30 633.30 C462.18 633.82 472.22 634.33 480.00 634.70 C487.78 635.07 490.00 635.28 500.00 635.50 C510.00 635.72 523.83 635.78 540.00 636.00 C556.17 636.22 587.50 636.67 597.00 636.80" fill="none" stroke="#d02828" stroke-width="1.6" stroke-linejoin="round"/>
<path d="M67.00 894.20 C67.75 893.92 70.05 892.23 71.50 892.50 C72.95 892.77 74.17 894.88 75.70 895.80 C77.23 896.72 79.03 897.72 80.70 898.00 C82.37 898.28 84.03 897.58 85.70 897.50 C87.37 897.42 89.03 897.22 90.70 897.50 C92.37 897.78 94.18 899.20 95.70 899.20 C97.22 899.20 98.42 898.15 99.80 897.50 C101.18 896.85 102.47 895.43 104.00 895.30 C105.53 895.17 107.33 896.20 109.00 896.70 C110.67 897.20 112.33 898.30 114.00 898.30 C115.67 898.30 117.47 897.30 119.00 896.70 C120.53 896.10 121.82 895.03 123.20 894.70 C124.58 894.37 125.78 894.52 127.30 894.70 C128.82 894.88 130.63 896.17 132.30 895.80 C133.97 895.43 135.63 893.47 137.30 892.50 C138.97 891.53 140.63 890.53 142.30 890.00 C143.97 889.47 145.63 889.17 147.30 889.30 C148.97 889.43 150.63 890.13 152.30 890.80 C153.97 891.47 156.02 892.47 157.30 893.30 C158.58 894.13 158.85 895.10 160.00 895.80 C161.15 896.50 162.67 897.50 164.20 897.50 C165.73 897.50 167.53 896.43 169.20 895.80 C170.87 895.17 172.68 893.97 174.20 893.70 C175.72 893.43 176.78 893.85 178.30 894.20 C179.82 894.55 181.90 896.22 183.30 895.80 C184.70 895.38 185.58 893.08 186.70 891.70 C187.82 890.32 188.75 888.40 190.00 887.50 C191.25 886.60 192.82 886.17 194.20 886.30 C195.58 886.43 196.92 887.40 198.30 888.30 C199.68 889.20 201.10 890.63 202.50 891.70 C203.90 892.77 205.32 893.87 206.70 894.70 C208.08 895.53 209.42 896.23 210.80 896.70 C212.18 897.17 213.75 897.78 215.00 897.50 C216.25 897.22 217.05 896.12 218.30 895.00 C219.55 893.88 221.10 891.83 222.50 890.80 C223.90 889.77 225.32 889.15 226.70 888.80 C228.08 888.45 229.42 888.92 230.80 888.70 C232.18 888.48 233.60 888.12 235.00 887.50 C236.40 886.88 237.82 885.55 239.20 885.00 C240.58 884.45 241.92 884.07 243.30 884.20 C244.68 884.33 246.38 884.82 247.50 885.80 C248.62 886.78 248.58 889.17 250.00 890.10 C251.42 891.03 254.00 892.07 256.00 891.40 C258.00 890.73 260.10 887.32 262.00 886.10 C263.90 884.88 265.62 884.10 267.40 884.10 C269.18 884.10 270.93 885.43 272.70 886.10 C274.47 886.77 276.00 887.88 278.00 888.10 C280.00 888.32 282.68 887.18 284.70 887.40 C286.72 887.62 288.32 888.52 290.10 889.40 C291.88 890.28 293.62 891.48 295.40 892.70 C297.18 893.92 299.02 895.25 300.80 896.70 C302.58 898.15 304.55 900.28 306.10 901.40 C307.65 902.52 308.98 903.73 310.10 903.40 C311.22 903.07 311.92 901.18 312.80 899.40 C313.68 897.62 314.52 895.37 315.40 892.70 C316.28 890.03 317.05 887.47 318.10 883.40 C319.15 879.33 320.27 873.58 321.70 868.30 C323.13 863.02 325.03 856.97 326.70 851.70 C328.37 846.43 330.18 840.60 331.70 836.70 C333.22 832.80 334.42 829.97 335.80 828.30 C337.18 826.63 338.47 827.38 340.00 826.70 C341.53 826.02 343.33 825.60 345.00 824.20 C346.67 822.80 348.33 820.38 350.00 818.30 C351.67 816.22 353.33 813.42 355.00 811.70 C356.67 809.98 358.33 808.33 360.00 808.00 C361.67 807.67 363.33 809.08 365.00 809.70 C366.67 810.32 368.62 812.20 370.00 811.70 C371.38 811.20 372.18 809.20 373.30 806.70 C374.42 804.20 375.45 799.43 376.70 796.70 C377.95 793.97 379.55 791.00 380.80 790.30 C382.05 789.60 382.95 791.30 384.20 792.50 C385.45 793.70 386.92 796.25 388.30 797.50 C389.68 798.75 391.25 800.70 392.50 800.00 C393.75 799.30 394.83 796.08 395.80 793.30 C396.77 790.52 397.47 786.35 398.30 783.30 C399.13 780.25 399.97 777.77 400.80 775.00 C401.63 772.23 402.47 769.33 403.30 766.70 C404.13 764.07 405.10 760.87 405.80 759.20 C406.50 757.53 406.52 757.73 407.50 756.70 C408.48 755.67 410.32 753.28 411.70 753.00 C413.08 752.72 414.42 753.97 415.80 755.00 C417.18 756.03 418.47 757.67 420.00 759.20 C421.53 760.73 423.62 762.27 425.00 764.20 C426.38 766.13 427.33 768.17 428.30 770.80 C429.27 773.43 429.97 775.97 430.80 780.00 C431.63 784.03 432.47 790.00 433.30 795.00 C434.13 800.00 434.97 805.28 435.80 810.00 C436.63 814.72 437.47 819.42 438.30 823.30 C439.13 827.18 439.82 830.10 440.80 833.30 C441.78 836.50 442.95 839.43 444.20 842.50 C445.45 845.57 446.92 848.78 448.30 851.70 C449.68 854.62 451.10 857.23 452.50 860.00 C453.90 862.77 455.32 865.80 456.70 868.30 C458.08 870.80 459.42 873.55 460.80 875.00 C462.18 876.45 463.47 877.00 465.00 877.00 C466.53 877.00 468.33 875.28 470.00 875.00 C471.67 874.72 473.33 875.17 475.00 875.30 C476.67 875.43 478.33 875.57 480.00 875.80 C481.67 876.03 483.33 876.33 485.00 876.70 C486.67 877.07 488.47 878.15 490.00 878.00 C491.53 877.85 492.63 876.45 494.20 875.80 C495.77 875.15 497.80 873.65 499.40 874.10 C501.00 874.55 502.20 876.88 503.80 878.50 C505.40 880.12 507.25 883.22 509.00 883.80 C510.75 884.38 512.70 882.53 514.30 882.00 C515.90 881.47 517.00 880.30 518.60 880.60 C520.20 880.90 522.15 883.57 523.90 883.80 C525.65 884.03 527.35 882.65 529.10 882.00 C530.85 881.35 532.50 879.95 534.40 879.90 C536.30 879.85 538.47 881.35 540.50 881.70 C542.53 882.05 544.70 881.80 546.60 882.00 C548.50 882.20 550.15 882.17 551.90 882.90 C553.65 883.63 555.35 885.43 557.10 886.40 C558.85 887.37 560.65 888.55 562.40 888.70 C564.15 888.85 565.85 887.98 567.60 887.30 C569.35 886.62 571.28 884.47 572.90 884.60 C574.52 884.73 575.85 886.78 577.30 888.10 C578.75 889.42 580.30 891.42 581.60 892.50 C582.90 893.58 583.78 894.88 585.10 894.60 C586.42 894.32 588.18 892.17 589.50 890.80 C590.82 889.43 591.83 887.72 593.00 886.40 C594.17 885.08 595.92 883.48 596.50 882.90" fill="none" stroke="#000" stroke-width="1.6" stroke-linejoin="round" stroke-dasharray="3.6 1.6"/>
<path d="M67.00 887.50 C67.62 888.05 69.53 889.88 70.70 890.80 C71.87 891.72 72.48 892.85 74.00 893.00 C75.52 893.15 78.27 891.65 79.80 891.70 C81.33 891.75 81.95 892.80 83.20 893.30 C84.45 893.80 85.92 894.97 87.30 894.70 C88.68 894.43 90.25 892.53 91.50 891.70 C92.75 890.87 93.68 889.85 94.80 889.70 C95.92 889.55 97.08 890.13 98.20 890.80 C99.32 891.47 100.25 893.00 101.50 893.70 C102.75 894.40 104.45 895.90 105.70 895.00 C106.95 894.10 107.75 890.80 109.00 888.30 C110.25 885.80 111.82 882.08 113.20 880.00 C114.58 877.92 116.05 876.50 117.30 875.80 C118.55 875.10 119.58 875.10 120.70 875.80 C121.82 876.50 122.75 878.33 124.00 880.00 C125.25 881.67 126.95 884.42 128.20 885.80 C129.45 887.18 130.40 888.15 131.50 888.30 C132.60 888.45 133.55 887.47 134.80 886.70 C136.05 885.93 137.75 884.40 139.00 883.70 C140.25 883.00 141.18 882.50 142.30 882.50 C143.42 882.50 144.45 883.50 145.70 883.70 C146.95 883.90 148.42 884.03 149.80 883.70 C151.18 883.37 152.88 882.18 154.00 881.70 C155.12 881.22 155.50 880.67 156.50 880.80 C157.50 880.93 158.72 881.93 160.00 882.50 C161.28 883.07 162.82 883.73 164.20 884.20 C165.58 884.67 166.92 885.58 168.30 885.30 C169.68 885.02 171.10 883.30 172.50 882.50 C173.90 881.70 175.32 880.50 176.70 880.50 C178.08 880.50 179.42 881.80 180.80 882.50 C182.18 883.20 183.60 884.00 185.00 884.70 C186.40 885.40 187.82 886.03 189.20 886.70 C190.58 887.37 191.92 888.10 193.30 888.70 C194.68 889.30 196.25 890.22 197.50 890.30 C198.75 890.38 199.55 890.42 200.80 889.20 C202.05 887.98 203.60 884.67 205.00 883.00 C206.40 881.33 207.95 879.00 209.20 879.20 C210.45 879.40 211.40 882.27 212.50 884.20 C213.60 886.13 214.68 888.58 215.80 890.80 C216.92 893.02 218.08 896.25 219.20 897.50 C220.32 898.75 221.25 899.00 222.50 898.30 C223.75 897.60 225.32 894.73 226.70 893.30 C228.08 891.87 229.42 890.47 230.80 889.70 C232.18 888.93 233.60 888.78 235.00 888.70 C236.40 888.62 237.82 888.85 239.20 889.20 C240.58 889.55 241.92 889.97 243.30 890.80 C244.68 891.63 246.38 893.32 247.50 894.20 C248.62 895.08 249.03 895.23 250.00 896.10 C250.97 896.97 252.18 898.97 253.30 899.40 C254.42 899.83 255.47 898.82 256.70 898.70 C257.93 898.58 259.58 897.92 260.70 898.70 C261.82 899.48 262.40 901.05 263.40 903.40 C264.40 905.75 265.60 909.23 266.70 912.80 C267.80 916.37 268.78 920.58 270.00 924.80 C271.22 929.02 272.67 933.87 274.00 938.10 C275.33 942.33 276.65 945.97 278.00 950.20 C279.35 954.43 280.87 959.50 282.10 963.50 C283.33 967.50 284.40 971.18 285.40 974.20 C286.40 977.22 287.32 980.03 288.10 981.60 C288.88 983.17 289.33 983.83 290.10 983.60 C290.87 983.37 291.70 982.43 292.70 980.20 C293.70 977.97 294.98 974.10 296.10 970.20 C297.22 966.30 298.28 961.47 299.40 956.80 C300.52 952.13 301.68 947.32 302.80 942.20 C303.92 937.08 305.00 931.67 306.10 926.10 C307.20 920.53 308.40 913.92 309.40 908.80 C310.40 903.68 311.10 899.63 312.10 895.40 C313.10 891.17 314.08 888.18 315.40 883.40 C316.72 878.62 318.40 871.72 320.00 866.70 C321.60 861.68 323.33 857.75 325.00 853.30 C326.67 848.85 328.33 845.00 330.00 840.00 C331.67 835.00 333.33 828.02 335.00 823.30 C336.67 818.58 338.47 814.62 340.00 811.70 C341.53 808.78 342.82 807.47 344.20 805.80 C345.58 804.13 346.92 802.33 348.30 801.70 C349.68 801.07 351.10 801.73 352.50 802.00 C353.90 802.27 355.45 803.50 356.70 803.30 C357.95 803.10 358.90 803.02 360.00 800.80 C361.10 798.58 362.18 793.75 363.30 790.00 C364.42 786.25 365.58 781.77 366.70 778.30 C367.82 774.83 368.75 771.55 370.00 769.20 C371.25 766.85 372.82 765.23 374.20 764.20 C375.58 763.17 376.92 762.73 378.30 763.00 C379.68 763.27 381.10 764.50 382.50 765.80 C383.90 767.10 385.32 769.55 386.70 770.80 C388.08 772.05 389.42 772.82 390.80 773.30 C392.18 773.78 393.60 773.37 395.00 773.70 C396.40 774.03 397.67 774.38 399.20 775.30 C400.73 776.22 402.53 777.87 404.20 779.20 C405.87 780.53 407.68 781.50 409.20 783.30 C410.72 785.10 412.05 787.77 413.30 790.00 C414.55 792.23 415.45 794.70 416.70 796.70 C417.95 798.70 419.42 800.75 420.80 802.00 C422.18 803.25 423.60 802.87 425.00 804.20 C426.40 805.53 427.82 807.92 429.20 810.00 C430.58 812.08 431.92 814.20 433.30 816.70 C434.68 819.20 436.10 822.23 437.50 825.00 C438.90 827.77 440.32 830.25 441.70 833.30 C443.08 836.35 444.42 839.97 445.80 843.30 C447.18 846.63 448.60 850.52 450.00 853.30 C451.40 856.08 452.82 858.60 454.20 860.00 C455.58 861.40 456.92 861.15 458.30 861.70 C459.68 862.25 461.10 861.92 462.50 863.30 C463.90 864.68 465.32 868.18 466.70 870.00 C468.08 871.82 469.55 873.65 470.80 874.20 C472.05 874.75 473.08 874.28 474.20 873.30 C475.32 872.32 476.25 869.82 477.50 868.30 C478.75 866.78 480.45 864.97 481.70 864.20 C482.95 863.43 483.75 863.35 485.00 863.70 C486.25 864.05 487.82 865.30 489.20 866.30 C490.58 867.30 491.92 868.67 493.30 869.70 C494.68 870.73 496.48 871.77 497.50 872.50 C498.52 873.23 498.35 873.68 499.40 874.10 C500.45 874.52 502.35 874.62 503.80 875.00 C505.25 875.38 506.65 876.25 508.10 876.40 C509.55 876.55 511.03 875.40 512.50 875.90 C513.97 876.40 515.43 878.38 516.90 879.40 C518.37 880.42 519.98 882.43 521.30 882.00 C522.62 881.57 523.58 878.40 524.80 876.80 C526.02 875.20 527.43 872.70 528.60 872.40 C529.77 872.10 530.68 873.40 531.80 875.00 C532.92 876.60 534.28 879.95 535.30 882.00 C536.32 884.05 537.03 885.70 537.90 887.30 C538.77 888.90 539.48 891.08 540.50 891.60 C541.52 892.12 542.83 890.83 544.00 890.40 C545.17 889.97 546.18 889.38 547.50 889.00 C548.82 888.62 550.43 888.68 551.90 888.10 C553.37 887.52 554.85 886.95 556.30 885.50 C557.75 884.05 559.15 880.92 560.60 879.40 C562.05 877.88 563.68 876.55 565.00 876.40 C566.32 876.25 567.33 877.27 568.50 878.50 C569.67 879.73 570.68 882.57 572.00 883.80 C573.32 885.03 574.93 886.20 576.40 885.90 C577.87 885.60 579.35 883.52 580.80 882.00 C582.25 880.48 583.65 878.25 585.10 876.80 C586.55 875.35 588.18 873.95 589.50 873.30 C590.82 872.65 591.83 872.77 593.00 872.90 C594.17 873.03 595.92 873.90 596.50 874.10" fill="none" stroke="#000" stroke-width="1.6" stroke-linejoin="round"/>
<path d="M67.00 885.00 C67.62 883.47 69.53 878.02 70.70 875.80 C71.87 873.58 72.75 872.80 74.00 871.70 C75.25 870.60 76.82 870.18 78.20 869.20 C79.58 868.22 80.92 866.50 82.30 865.80 C83.68 865.10 85.25 864.43 86.50 865.00 C87.75 865.57 88.55 866.98 89.80 869.20 C91.05 871.42 92.52 875.38 94.00 878.30 C95.48 881.22 97.17 885.87 98.70 886.70 C100.23 887.53 101.77 885.53 103.20 883.30 C104.63 881.07 106.05 876.35 107.30 873.30 C108.55 870.25 109.63 867.22 110.70 865.00 C111.77 862.78 112.65 860.70 113.70 860.00 C114.75 859.30 115.98 859.68 117.00 860.80 C118.02 861.92 118.77 864.75 119.80 866.70 C120.83 868.65 122.08 871.12 123.20 872.50 C124.32 873.88 125.40 874.72 126.50 875.00 C127.60 875.28 128.68 874.70 129.80 874.20 C130.92 873.70 131.95 872.42 133.20 872.00 C134.45 871.58 135.92 872.03 137.30 871.70 C138.68 871.37 140.10 870.78 141.50 870.00 C142.90 869.22 144.32 867.70 145.70 867.00 C147.08 866.30 148.55 864.88 149.80 865.80 C151.05 866.72 152.08 870.13 153.20 872.50 C154.32 874.87 155.37 878.42 156.50 880.00 C157.63 881.58 158.87 882.00 160.00 882.00 C161.13 882.00 162.18 882.28 163.30 880.00 C164.42 877.72 165.72 871.35 166.70 868.30 C167.68 865.25 168.32 863.42 169.20 861.70 C170.08 859.98 170.90 857.58 172.00 858.00 C173.10 858.42 174.47 862.20 175.80 864.20 C177.13 866.20 178.60 868.82 180.00 870.00 C181.40 871.18 182.82 871.30 184.20 871.30 C185.58 871.30 186.92 869.67 188.30 870.00 C189.68 870.33 190.97 872.18 192.50 873.30 C194.03 874.42 195.97 876.42 197.50 876.70 C199.03 876.98 200.45 875.57 201.70 875.00 C202.95 874.43 203.75 873.17 205.00 873.30 C206.25 873.43 207.82 874.82 209.20 875.80 C210.58 876.78 211.92 878.63 213.30 879.20 C214.68 879.77 216.10 879.35 217.50 879.20 C218.90 879.05 220.32 877.75 221.70 878.30 C223.08 878.85 224.42 881.17 225.80 882.50 C227.18 883.83 228.60 885.33 230.00 886.30 C231.40 887.27 232.82 887.40 234.20 888.30 C235.58 889.20 236.92 890.80 238.30 891.70 C239.68 892.60 241.10 893.57 242.50 893.70 C243.90 893.83 245.45 893.10 246.70 892.50 C247.95 891.90 248.78 890.40 250.00 890.10 C251.22 889.80 252.67 890.03 254.00 890.70 C255.33 891.37 256.77 892.65 258.00 894.10 C259.23 895.55 260.40 897.18 261.40 899.40 C262.40 901.62 263.12 904.28 264.00 907.40 C264.88 910.52 265.80 914.32 266.70 918.10 C267.60 921.88 268.52 925.87 269.40 930.10 C270.28 934.33 271.12 939.05 272.00 943.50 C272.88 947.95 273.80 952.57 274.70 956.80 C275.60 961.03 276.52 965.33 277.40 968.90 C278.28 972.47 279.12 975.87 280.00 978.20 C280.88 980.53 281.80 982.78 282.70 982.90 C283.60 983.02 284.50 981.02 285.40 978.90 C286.30 976.78 287.22 973.88 288.10 970.20 C288.98 966.52 289.82 961.70 290.70 956.80 C291.58 951.90 292.50 946.58 293.40 940.80 C294.30 935.02 295.22 928.33 296.10 922.10 C296.98 915.87 297.82 909.18 298.70 903.40 C299.58 897.62 300.50 892.30 301.40 887.40 C302.30 882.50 303.20 877.78 304.10 874.00 C305.00 870.22 305.80 867.28 306.80 864.70 C307.80 862.12 309.02 859.98 310.10 858.50 C311.18 857.02 311.93 856.52 313.30 855.80 C314.67 855.08 316.90 855.72 318.30 854.20 C319.70 852.68 320.58 850.18 321.70 846.70 C322.82 843.22 323.90 837.47 325.00 833.30 C326.10 829.13 327.18 824.88 328.30 821.70 C329.42 818.52 330.58 815.87 331.70 814.20 C332.82 812.53 333.62 812.27 335.00 811.70 C336.38 811.13 338.47 811.63 340.00 810.80 C341.53 809.97 342.82 808.50 344.20 806.70 C345.58 804.90 347.05 803.33 348.30 800.00 C349.55 796.67 350.58 791.70 351.70 786.70 C352.82 781.70 353.90 775.28 355.00 770.00 C356.10 764.72 357.33 758.75 358.30 755.00 C359.27 751.25 359.82 749.45 360.80 747.50 C361.78 745.55 363.08 743.85 364.20 743.30 C365.32 742.75 366.40 744.05 367.50 744.20 C368.60 744.35 369.68 744.77 370.80 744.20 C371.92 743.63 372.95 741.83 374.20 740.80 C375.45 739.77 376.92 738.00 378.30 738.00 C379.68 738.00 381.10 739.08 382.50 740.80 C383.90 742.52 385.32 745.38 386.70 748.30 C388.08 751.22 389.42 755.23 390.80 758.30 C392.18 761.37 393.47 764.47 395.00 766.70 C396.53 768.93 398.47 769.90 400.00 771.70 C401.53 773.50 402.82 775.15 404.20 777.50 C405.58 779.85 406.92 783.17 408.30 785.80 C409.68 788.43 411.10 791.63 412.50 793.30 C413.90 794.97 415.32 794.97 416.70 795.80 C418.08 796.63 419.42 797.05 420.80 798.30 C422.18 799.55 423.60 801.35 425.00 803.30 C426.40 805.25 427.82 807.50 429.20 810.00 C430.58 812.50 431.92 815.25 433.30 818.30 C434.68 821.35 436.10 824.97 437.50 828.30 C438.90 831.63 440.32 835.23 441.70 838.30 C443.08 841.37 444.42 844.20 445.80 846.70 C447.18 849.20 448.60 851.50 450.00 853.30 C451.40 855.10 452.82 856.38 454.20 857.50 C455.58 858.62 456.92 859.17 458.30 860.00 C459.68 860.83 461.25 861.67 462.50 862.50 C463.75 863.33 464.55 865.00 465.80 865.00 C467.05 865.00 468.60 863.62 470.00 862.50 C471.40 861.38 472.82 859.83 474.20 858.30 C475.58 856.77 476.78 854.82 478.30 853.30 C479.82 851.78 481.90 849.75 483.30 849.20 C484.70 848.65 485.58 848.75 486.70 850.00 C487.82 851.25 488.90 854.20 490.00 856.70 C491.10 859.20 492.18 862.78 493.30 865.00 C494.42 867.22 495.68 868.92 496.70 870.00 C497.72 871.08 498.22 872.42 499.40 871.50 C500.58 870.58 502.48 866.83 503.80 864.50 C505.12 862.17 506.13 858.82 507.30 857.50 C508.47 856.18 509.63 856.07 510.80 856.60 C511.97 857.13 513.13 859.73 514.30 860.70 C515.47 861.67 516.50 862.05 517.80 862.40 C519.10 862.75 520.80 862.02 522.10 862.80 C523.40 863.58 524.43 865.07 525.60 867.10 C526.77 869.13 527.93 872.52 529.10 875.00 C530.27 877.48 531.43 880.68 532.60 882.00 C533.77 883.32 534.93 883.25 536.10 882.90 C537.27 882.55 538.28 881.37 539.60 879.90 C540.92 878.43 542.38 875.93 544.00 874.10 C545.62 872.27 547.55 870.50 549.30 868.90 C551.05 867.30 552.90 865.58 554.50 864.50 C556.10 863.42 557.43 862.40 558.90 862.40 C560.37 862.40 561.98 863.42 563.30 864.50 C564.62 865.58 565.63 867.58 566.80 868.90 C567.97 870.22 569.13 871.97 570.30 872.40 C571.47 872.83 572.50 872.38 573.80 871.50 C575.10 870.62 576.65 868.42 578.10 867.10 C579.55 865.78 581.18 864.03 582.50 863.60 C583.82 863.17 584.83 863.47 586.00 864.50 C587.17 865.53 588.33 868.05 589.50 869.80 C590.67 871.55 591.83 873.40 593.00 875.00 C594.17 876.60 595.92 878.67 596.50 879.40" fill="none" stroke="#d02828" stroke-width="1.6" stroke-linejoin="round"/>
<text x="136.30" y="322.70" text-anchor="middle" font-size="23.7" >4580</text>
<text x="268.90" y="322.70" text-anchor="middle" font-size="23.7" >4600</text>
<text x="401.50" y="322.70" text-anchor="middle" font-size="23.7" >4620</text>
<text x="534.10" y="322.70" text-anchor="middle" font-size="23.7" >4640</text>
<text x="114.20" y="667.70" text-anchor="middle" font-size="23.7" >6550</text>
<text x="291.00" y="667.70" text-anchor="middle" font-size="23.7" >6570</text>
<text x="467.80" y="667.70" text-anchor="middle" font-size="23.7" >6590</text>
<text x="136.30" y="1012.80" text-anchor="middle" font-size="23.7" >6660</text>
<text x="268.90" y="1012.80" text-anchor="middle" font-size="23.7" >6670</text>
<text x="401.50" y="1012.80" text-anchor="middle" font-size="23.7" >6680</text>
<text x="534.10" y="1012.80" text-anchor="middle" font-size="23.7" >6690</text>
<text x="56.70" y="288.20" text-anchor="end" font-size="23.7" > </text>
<path d="M51.74 288.20 L51.74 271.61 L50.39 271.61 C49.80 273.27 48.26 274.45 45.23 274.64 L45.23 276.35 L49.73 276.35 L49.73 288.20 Z" fill="#000" stroke="#000" stroke-width="0.3"/>
<text x="56.70" y="114.10" text-anchor="end" font-size="23.7" >2</text>
<text x="56.70" y="650.40" text-anchor="end" font-size="23.7" >0</text>
<text x="56.70" y="565.97" text-anchor="end" font-size="23.7" >20</text>
<text x="56.70" y="481.54" text-anchor="end" font-size="23.7" >40</text>
<text x="56.70" y="397.11" text-anchor="end" font-size="23.7" >60</text>
<text x="56.70" y="995.50" text-anchor="end" font-size="23.7" >0.6</text>
<text x="56.70" y="877.30" text-anchor="end" font-size="23.7" > </text>
<path d="M51.74 877.30 L51.74 860.71 L50.39 860.71 C49.80 862.37 48.26 863.55 45.23 863.74 L45.23 865.45 L49.73 865.45 L49.73 877.30 Z" fill="#000" stroke="#000" stroke-width="0.3"/>
<text x="56.70" y="759.10" text-anchor="end" font-size="23.7" > .4</text>
<path d="M31.98 759.10 L31.98 742.51 L30.63 742.51 C30.03 744.17 28.49 745.35 25.46 745.54 L25.46 747.25 L29.96 747.25 L29.96 759.10 Z" fill="#000" stroke="#000" stroke-width="0.3"/>
<text x="80.30" y="39.25" text-anchor="start" font-size="23.7" >(a)</text>
<text x="80.30" y="384.35" text-anchor="start" font-size="23.7" >(b)</text>
<text x="80.30" y="729.45" text-anchor="start" font-size="23.7" >(c)</text>
<text x="488.00" y="26.80" text-anchor="end" font-size="23.7" >Phase=0.2  ( 999)</text>
<path d="M407.95 26.80 L407.95 10.21 L406.60 10.21 C406.01 11.87 404.47 13.05 401.43 13.24 L401.43 14.95 L405.94 14.95 L405.94 26.80 Z M435.61 26.80 L435.61 10.21 L434.26 10.21 C433.66 11.87 432.12 13.05 429.09 13.24 L429.09 14.95 L433.59 14.95 L433.59 26.80 Z" fill="#000" stroke="#000" stroke-width="0.3"/>
<text x="488.00" y="50.45" text-anchor="end" font-size="23.7" >Phase=2.20 (20 0)</text>
<path d="M461.97 50.45 L461.97 33.86 L460.62 33.86 C460.03 35.52 458.49 36.70 455.45 36.89 L455.45 38.60 L459.96 38.60 L459.96 50.45 Z" fill="#000" stroke="#000" stroke-width="0.3"/>
<text x="488.00" y="74.10" text-anchor="end" font-size="23.7" >Phase=2.28 (20 0)</text>
<path d="M461.97 74.10 L461.97 57.51 L460.62 57.51 C460.03 59.17 458.49 60.35 455.45 60.54 L455.45 62.25 L459.96 62.25 L459.96 74.10 Z" fill="#000" stroke="#000" stroke-width="0.3"/>
<path d="M501.3 18.7H569.1" stroke="#000" stroke-width="1.6" stroke-dasharray="3.4 1.7"/>
<path d="M501.3 42.3H569.1" stroke="#000" stroke-width="1.6"/>
<path d="M501.3 65.9H569.1" stroke="#d02828" stroke-width="1.6"/>
<text transform="translate(432,393.6) scale(1,1.03)" font-size="30.5">H</text>
<path d="M467.4 386.4A6.2 8.3 0 1 1 455 386.4A6.2 8.3 0 1 1 467.4 386.4ZM465.8 386.6A3.8 6.9 0 1 0 458.2 386.6A3.8 6.9 0 1 0 465.8 386.6Z" fill="#000" fill-rule="evenodd"/>
<path d="M469.9 379.1L472.7 379.1L467.4 390.2L465.9 388.8Z" fill="#000"/>
<path d="M466.5 388.6C467.1 392.6 467.9 394.4 469.2 394.4C470.6 394.4 471.8 392.6 472.7 389.9" fill="none" stroke="#000" stroke-width="1.5"/>
<text transform="translate(432.2,738.9) scale(1,1.03)" font-size="30.5">He I</text>
<path d="M497.6 721.2C497.7 718.4 499 716.6 500.7 716.6C502.6 716.6 503.6 718.3 504.3 721.2L506.9 734.2C507.5 737.1 508.5 738.4 509.9 738.4C511.2 738.4 512.1 737 512.7 734.6" fill="none" stroke="#000" stroke-width="2"/>
<path d="M503.6 724.6L505.6 727.4L499.4 738.9L496.6 738.9Z" fill="#000"/>
<text transform="translate(512.8,738.9) scale(1,1.03)" font-size="30.5">6680</text>
<text transform="translate(20,494.7) rotate(-90)" text-anchor="middle" font-size="23.7">Normalized Flux</text>
<text x="331.60" y="1042.00" text-anchor="middle" font-size="23.7" >Wavelength (Å)</text>
</svg></body></html>
